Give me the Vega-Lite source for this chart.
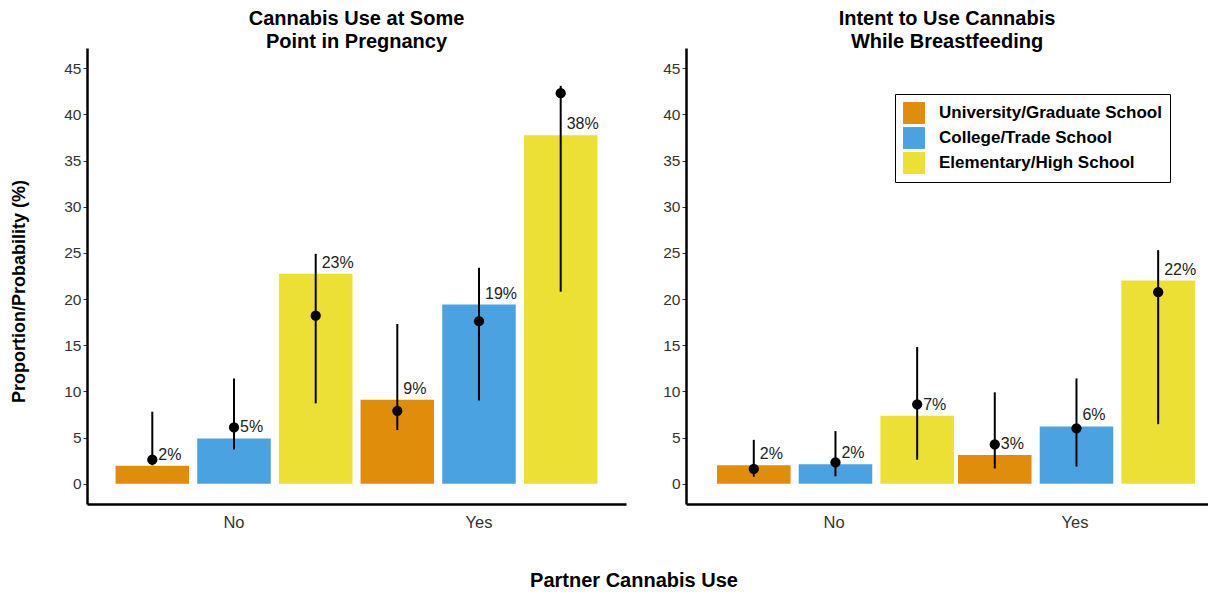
{
  "$schema": "https://vega.github.io/schema/vega-lite/v6.json",
  "background": "white",
  "padding": {"left": 10, "top": 9, "right": 0, "bottom": 0},
  "datasets": {
    "preg": [
      {"partner": "No", "edu": "University/Graduate School", "prop": 1.95, "prob": 2.6, "lo": 2.0, "hi": 7.8, "label": "2%"},
      {"partner": "No", "edu": "College/Trade School", "prop": 4.9, "prob": 6.1, "lo": 3.7, "hi": 11.4, "label": "5%"},
      {"partner": "No", "edu": "Elementary/High School", "prop": 22.75, "prob": 18.2, "lo": 8.7, "hi": 24.9, "label": "23%"},
      {"partner": "Yes", "edu": "University/Graduate School", "prop": 9.1, "prob": 7.9, "lo": 5.8, "hi": 17.3, "label": "9%"},
      {"partner": "Yes", "edu": "College/Trade School", "prop": 19.4, "prob": 17.6, "lo": 9.0, "hi": 23.4, "label": "19%"},
      {"partner": "Yes", "edu": "Elementary/High School", "prop": 37.75, "prob": 42.3, "lo": 20.8, "hi": 43.1, "label": "38%"}
    ],
    "bf": [
      {"partner": "No", "edu": "University/Graduate School", "prop": 2.0, "prob": 1.6, "lo": 0.75, "hi": 4.75, "label": "2%"},
      {"partner": "No", "edu": "College/Trade School", "prop": 2.1, "prob": 2.3, "lo": 0.8, "hi": 5.7, "label": "2%"},
      {"partner": "No", "edu": "Elementary/High School", "prop": 7.35, "prob": 8.6, "lo": 2.6, "hi": 14.8, "label": "7%"},
      {"partner": "Yes", "edu": "University/Graduate School", "prop": 3.1, "prob": 4.25, "lo": 1.65, "hi": 9.9, "label": "3%"},
      {"partner": "Yes", "edu": "College/Trade School", "prop": 6.2, "prob": 6.0, "lo": 1.85, "hi": 11.4, "label": "6%"},
      {"partner": "Yes", "edu": "Elementary/High School", "prop": 22.0, "prob": 20.75, "lo": 6.45, "hi": 25.3, "label": "22%"}
    ]
  },
  "title": {"text": "Partner Cannabis Use", "orient": "bottom", "anchor": "middle", "fontSize": 20, "fontWeight": "bold", "font": "Liberation Sans", "color": "black", "offset": 40, "dx": 25},
  "spacing": 36,
  "resolve": {"legend": {"color": "independent"}},
  "hconcat": [
    {
      "width": 539,
      "height": 456,
      "title": {"text": ["Cannabis Use at Some", "Point in Pregnancy"], "anchor": "middle", "offset": -4},
      "data": {"name": "preg"},
      "encoding": {
        "x": {"field": "partner", "type": "nominal", "scale": {"paddingInner": 0.033, "paddingOuter": 0.1165}, "axis": {"title": null, "ticks": false, "labelAngle": 0, "labelPadding": 10, "labelFontSize": 16.5}},
        "xOffset": {"field": "edu", "type": "nominal", "sort": ["University/Graduate School", "College/Trade School", "Elementary/High School"], "scale": {"paddingInner": 0.1, "paddingOuter": 0}}
      },
      "layer": [
        {
          "mark": {"type": "bar"},
          "encoding": {
            "y": {"field": "prop", "type": "quantitative", "scale": {"domain": [-2.2, 47.2], "nice": false, "zero": false}, "axis": {"values": [0, 5, 10, 15, 20, 25, 30, 35, 40, 45], "title": "Proportion/Probability (%)", "titleX": -68, "titleY": 243, "titleAngle": -90, "titleBaseline": "middle", "titleAlign": "center", "labelPadding": 2}},
            "y2": {"datum": 0},
            "color": {"field": "edu", "type": "nominal", "scale": {"domain": ["University/Graduate School", "College/Trade School", "Elementary/High School"], "range": ["#E08D0B", "#4AA3E0", "#EBE033"]}, "legend": null}
          }
        },
        {
          "mark": {"type": "rule", "strokeWidth": 2, "color": "black"},
          "encoding": {"y": {"field": "lo", "type": "quantitative"}, "y2": {"field": "hi"}}
        },
        {
          "mark": {"type": "point", "filled": true, "size": 105, "color": "black", "opacity": 1},
          "encoding": {"y": {"field": "prob", "type": "quantitative"}}
        },
        {
          "mark": {"type": "text", "align": "left", "baseline": "alphabetic", "dx": 6, "dy": -6, "fontSize": 16, "font": "Liberation Sans", "color": "#222"},
          "encoding": {"y": {"field": "prop", "type": "quantitative"}, "text": {"field": "label"}}
        }
      ]
    },
    {
      "width": 522,
      "height": 456,
      "title": {"text": ["Intent to Use Cannabis", "While Breastfeeding"], "anchor": "middle", "offset": -4},
      "data": {"name": "bf"},
      "encoding": {
        "x": {"field": "partner", "type": "nominal", "scale": {"paddingInner": 0.029, "paddingOuter": 0.0975, "align": 0.66}, "axis": {"title": null, "ticks": false, "labelAngle": 0, "labelPadding": 10, "labelFontSize": 16.5}},
        "xOffset": {"field": "edu", "type": "nominal", "sort": ["University/Graduate School", "College/Trade School", "Elementary/High School"], "scale": {"paddingInner": 0.1, "paddingOuter": 0}}
      },
      "layer": [
        {
          "mark": {"type": "bar"},
          "encoding": {
            "y": {"field": "prop", "type": "quantitative", "scale": {"domain": [-2.2, 47.2], "nice": false, "zero": false}, "axis": {"values": [0, 5, 10, 15, 20, 25, 30, 35, 40, 45], "title": null, "labelPadding": 2}},
            "y2": {"datum": 0},
            "color": {"field": "edu", "type": "nominal", "scale": {"domain": ["University/Graduate School", "College/Trade School", "Elementary/High School"], "range": ["#E08D0B", "#4AA3E0", "#EBE033"]}, "legend": {"orient": "none", "legendX": 209, "legendY": 46, "title": null, "strokeColor": "black", "fillColor": "white", "padding": 8, "symbolType": "square", "symbolSize": 480, "symbolStrokeWidth": 0, "symbolOpacity": 1, "labelFont": "Liberation Sans", "labelFontSize": 17, "labelFontWeight": "bold", "labelColor": "black", "rowPadding": 3, "labelOffset": 14, "labelLimit": 400}}
          }
        },
        {
          "mark": {"type": "rule", "strokeWidth": 2, "color": "black"},
          "encoding": {"y": {"field": "lo", "type": "quantitative"}, "y2": {"field": "hi"}}
        },
        {
          "mark": {"type": "point", "filled": true, "size": 105, "color": "black", "opacity": 1},
          "encoding": {"y": {"field": "prob", "type": "quantitative"}}
        },
        {
          "mark": {"type": "text", "align": "left", "baseline": "alphabetic", "dx": 6, "dy": -6, "fontSize": 16, "font": "Liberation Sans", "color": "#222"},
          "encoding": {"y": {"field": "prop", "type": "quantitative"}, "text": {"field": "label"}}
        }
      ]
    }
  ],
  "config": {
    "view": {"stroke": null},
    "axis": {"domainColor": "black", "domainWidth": 2.5, "tickColor": "#333", "tickSize": 4, "tickWidth": 1, "labelFont": "Liberation Sans", "labelFontSize": 15.5, "labelColor": "#333", "grid": false, "titleFont": "Liberation Sans", "titleFontSize": 18, "titleFontWeight": "bold", "titleColor": "black"},
    "title": {"font": "Liberation Sans", "fontSize": 20, "fontWeight": "bold", "color": "black", "lineHeight": 23}
  }
}
